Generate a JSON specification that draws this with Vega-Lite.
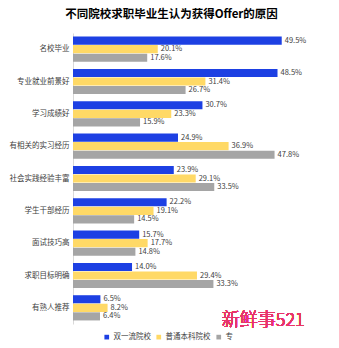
{
  "$schema": "https://vega.github.io/schema/vega-lite/v6.json",
  "autosize": "none",
  "width": 253,
  "height": 291,
  "padding": {"left": 73, "top": 33, "right": 13, "bottom": 24},
  "background": "white",
  "title": {
    "text": "不同院校求职毕业生认为获得Offer的原因",
    "font": "Noto Sans CJK SC",
    "fontSize": 11.5,
    "fontWeight": "bold",
    "color": "#000000",
    "anchor": "middle",
    "frame": "group",
    "dx": -28,
    "offset": 13
  },
  "data": {"values": [
    {"cat": "名校毕业", "series": "双一流院校", "v": 0.495},
    {"cat": "名校毕业", "series": "普通本科院校", "v": 0.201},
    {"cat": "名校毕业", "series": "专科院校", "v": 0.176},
    {"cat": "专业就业前景好", "series": "双一流院校", "v": 0.485},
    {"cat": "专业就业前景好", "series": "普通本科院校", "v": 0.314},
    {"cat": "专业就业前景好", "series": "专科院校", "v": 0.267},
    {"cat": "学习成绩好", "series": "双一流院校", "v": 0.307},
    {"cat": "学习成绩好", "series": "普通本科院校", "v": 0.233},
    {"cat": "学习成绩好", "series": "专科院校", "v": 0.159},
    {"cat": "有相关的实习经历", "series": "双一流院校", "v": 0.249},
    {"cat": "有相关的实习经历", "series": "普通本科院校", "v": 0.369},
    {"cat": "有相关的实习经历", "series": "专科院校", "v": 0.478},
    {"cat": "社会实践经验丰富", "series": "双一流院校", "v": 0.239},
    {"cat": "社会实践经验丰富", "series": "普通本科院校", "v": 0.291},
    {"cat": "社会实践经验丰富", "series": "专科院校", "v": 0.335},
    {"cat": "学生干部经历", "series": "双一流院校", "v": 0.222},
    {"cat": "学生干部经历", "series": "普通本科院校", "v": 0.191},
    {"cat": "学生干部经历", "series": "专科院校", "v": 0.145},
    {"cat": "面试技巧高", "series": "双一流院校", "v": 0.157},
    {"cat": "面试技巧高", "series": "普通本科院校", "v": 0.177},
    {"cat": "面试技巧高", "series": "专科院校", "v": 0.148},
    {"cat": "求职目标明确", "series": "双一流院校", "v": 0.140},
    {"cat": "求职目标明确", "series": "普通本科院校", "v": 0.294},
    {"cat": "求职目标明确", "series": "专科院校", "v": 0.333},
    {"cat": "有熟人推荐", "series": "双一流院校", "v": 0.065},
    {"cat": "有熟人推荐", "series": "普通本科院校", "v": 0.082},
    {"cat": "有熟人推荐", "series": "专科院校", "v": 0.064}
  ]},
  "encoding": {
    "y": {
      "field": "cat", "type": "nominal", "sort": null,
      "scale": {"paddingInner": 0.22, "paddingOuter": 0.11},
      "axis": {
        "title": null, "ticks": false, "domainColor": "#d9d9d9", "domainWidth": 1,
        "labelFont": "Noto Sans CJK SC", "labelFontSize": 7.5, "labelColor": "#404040",
        "labelPadding": 4
      }
    }
  },
  "layer": [
    {
      "mark": {"type": "bar"},
      "encoding": {
        "x": {"field": "v", "type": "quantitative", "scale": {"domain": [0, 0.6]}, "axis": null},
        "yOffset": {"field": "series", "type": "nominal", "sort": ["双一流院校", "普通本科院校", "专科院校"], "scale": {"paddingInner": 0.05}},
        "color": {
          "field": "series", "type": "nominal",
          "sort": ["双一流院校", "普通本科院校", "专科院校"],
          "scale": {"domain": ["双一流院校", "普通本科院校", "专科院校"], "range": ["#1D40E3", "#FFD966", "#A5A5A5"]},
          "legend": {
            "title": null, "orient": "none", "direction": "horizontal",
            "legendX": 30, "legendY": 300,
            "symbolType": "square", "symbolSize": 22, "symbolStrokeWidth": 0,
            "labelFont": "Noto Sans CJK SC", "labelFontSize": 7.5, "labelColor": "#404040",
            "columnPadding": 4, "labelOffset": 3,
            "labelExpr": "datum.label == '专科院校' ? '专' : datum.label"
          }
        }
      }
    },
    {
      "mark": {"type": "text", "align": "left", "baseline": "middle", "dx": 3, "font": "Noto Sans CJK SC", "fontSize": 7.5, "color": "#404040"},
      "encoding": {
        "x": {"field": "v", "type": "quantitative"},
        "yOffset": {"field": "series", "type": "nominal", "sort": ["双一流院校", "普通本科院校", "专科院校"]},
        "text": {"field": "v", "type": "quantitative", "format": ".1%"}
      }
    },
    {
      "mark": {"type": "text", "align": "left", "baseline": "middle", "dy": 13, "font": "Noto Sans CJK SC", "fontSize": 18, "fontWeight": 300, "color": "#E8346A"},
      "encoding": {
        "x": {"datum": 0.353, "type": "quantitative"},
        "y": {"datum": "有熟人推荐", "type": "nominal"},
        "text": {"value": "新鲜事521"}
      }
    }
  ],
  "config": {"view": {"stroke": null}}
}
